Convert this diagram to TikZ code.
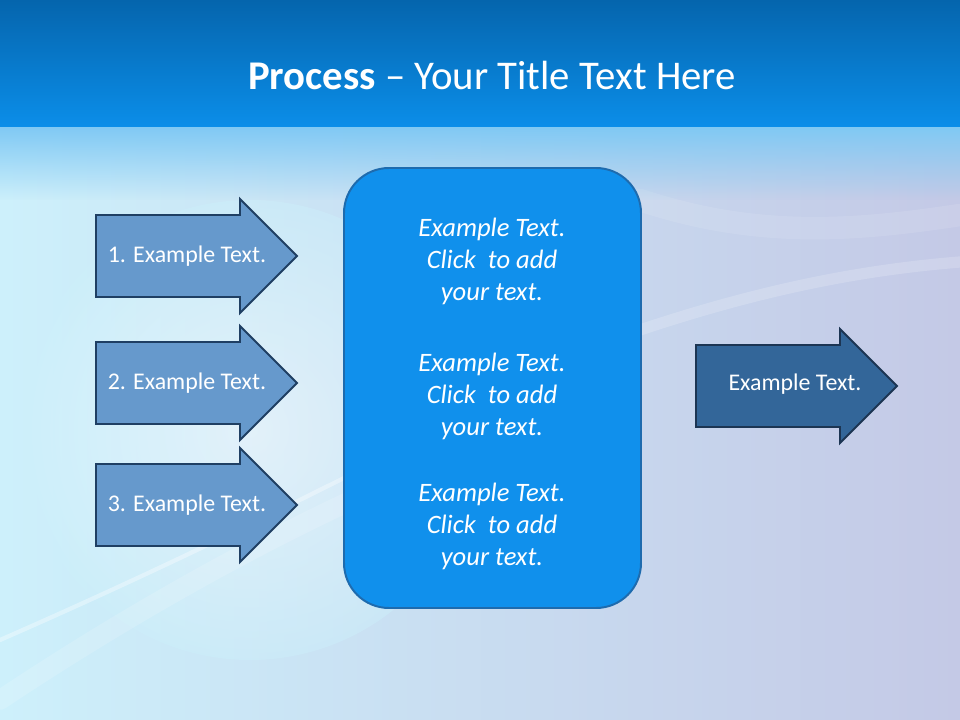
\documentclass[tikz,border=0pt]{standalone}
\usepackage{fontspec}
\setmainfont{Carlito}
\usetikzlibrary{fadings}
\definecolor{titletop}{HTML}{0565AD}
\definecolor{titlebot}{HTML}{0B8EE9}
\definecolor{bgleft}{HTML}{CDF0FB}
\definecolor{bgright}{HTML}{C4C9E6}
\definecolor{boxfill}{HTML}{1090EC}
\definecolor{boxline}{HTML}{1E6BAE}
\definecolor{infill}{HTML}{6699CC}
\definecolor{inline}{HTML}{1F3F63}
\definecolor{outfill}{HTML}{336699}
\definecolor{outline}{HTML}{1C3553}
\tikzset{
  inarrow/.style={fill=infill, draw=inline, line width=1.4pt, line join=miter},
  outarrow/.style={fill=outfill, draw=outline, line width=1.4pt, line join=miter},
  arrowtext/.style={text=white, font=\fontsize{17}{20}\selectfont},
  stepbox/.style={fill=boxfill, draw=boxline, line width=1.4pt, rounded corners=32pt},
  boxtext/.style={text=white, align=center, font=\fontsize{18.9}{22.8}\selectfont\itshape},
  swoosh/.style={white, line cap=round}
}
\begin{document}
\begin{tikzpicture}[x=0.025cm, y=-0.025cm]
  \useasboundingbox (0,0) rectangle (960,720);
  % background
  \shade[left color=bgleft, right color=bgright] (0,0) rectangle (960,720);
  \shade[inner color=white, outer color=bgleft, opacity=0.45] (250,430) circle [radius=230];
  \draw[swoosh, line width=14pt, opacity=0.15] (0,700) .. controls (150,600) and (300,520) .. (420,470);
  \draw[swoosh, line width=3pt, opacity=0.35] (0,640) .. controls (160,570) and (280,510) .. (360,470);
  \draw[swoosh, line width=8pt, opacity=0.18] (640,330) .. controls (760,290) and (860,270) .. (960,262);
  \draw[swoosh, line width=16pt, opacity=0.1] (640,200) .. controls (760,240) and (860,230) .. (960,215);
  \fill[titlebot!40!bgleft, path fading=south] (0,127) rectangle (960,200);
  % title band
  \shade[top color=titletop, bottom color=titlebot] (0,0) rectangle (960,127);
  \node[text=white, font=\fontsize{29}{35}\selectfont] (title) at (492,75)
    {\textbf{Process} -- Your Title Text Here};
  % input arrows
  \draw[inarrow] (96,215) -- (240,215) -- (240,199) -- (297,256) -- (240,313) -- (240,297) -- (96,297) -- cycle;
  \draw[inarrow] (96,342) -- (240,342) -- (240,326) -- (297,383) -- (240,440) -- (240,424) -- (96,424) -- cycle;
  \draw[inarrow] (96,464) -- (240,464) -- (240,448) -- (297,505) -- (240,562) -- (240,546) -- (96,546) -- cycle;
  \node[arrowtext] (in1) at (187,256) {1. Example Text.};
  \node[arrowtext] (in2) at (187,383) {2. Example Text.};
  \node[arrowtext] (in3) at (187,505) {3. Example Text.};
  % process box
  \draw[stepbox] (344,168) rectangle (641,608);
  \node[boxtext] (p1) at (492,261) {Example Text.\\Click\ \ to add\\your text.};
  \node[boxtext] (p2) at (492,396) {Example Text.\\Click\ \ to add\\your text.};
  \node[boxtext] (p3) at (492,526) {Example Text.\\Click\ \ to add\\your text.};
  % output arrow
  \draw[outarrow] (696,345) -- (840,345) -- (840,329) -- (897,386) -- (840,443) -- (840,427) -- (696,427) -- cycle;
  \node[arrowtext] (out) at (795,384) {Example Text.};
\end{tikzpicture}
\end{document}
